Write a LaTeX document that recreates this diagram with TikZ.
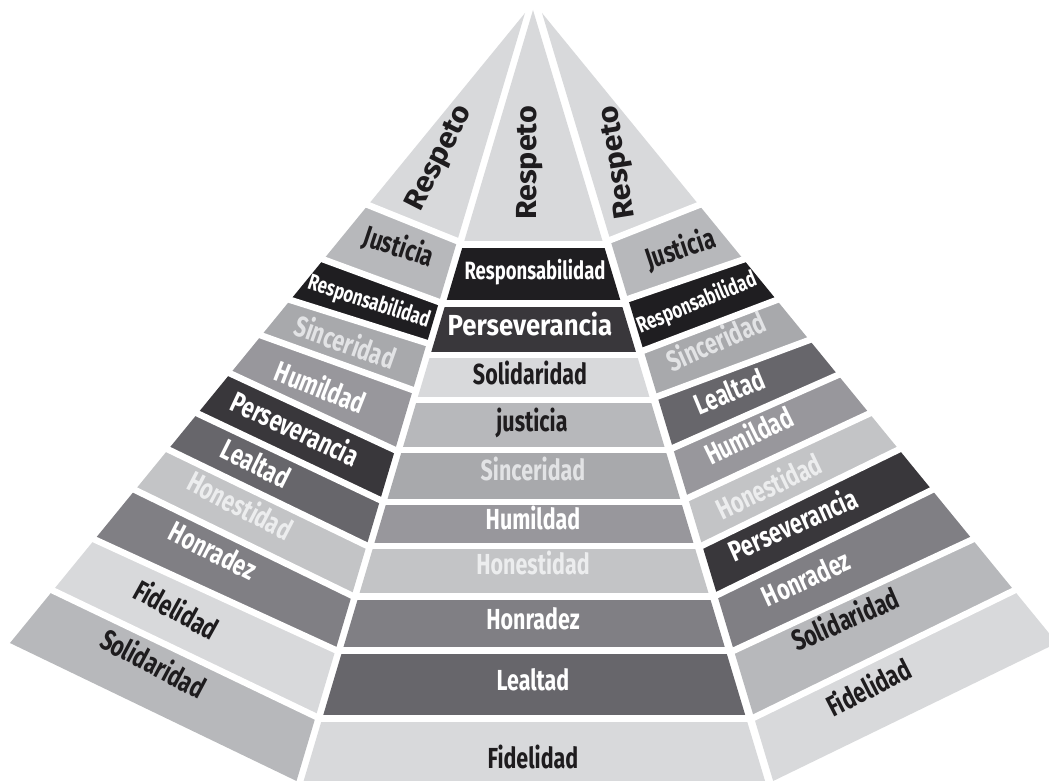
\documentclass[tikz,border=0pt]{standalone}
\usepackage{fontspec}
\usepackage{graphicx}
\newfontfamily\lab{Fira Sans}[FakeStretch=0.74]
\newfontfamily\labw{Fira Sans}[FakeStretch=1.05]
\definecolor{ca}{HTML}{D8D9DB}
\definecolor{cb}{HTML}{B7B8BB}
\definecolor{cc}{HTML}{A8A9AC}
\definecolor{cd}{HTML}{98979C}
\definecolor{ce}{HTML}{C3C4C6}
\definecolor{cf}{HTML}{807F84}
\definecolor{cg}{HTML}{67666B}
\definecolor{ch}{HTML}{39373B}
\definecolor{ci}{HTML}{1F1E21}
\definecolor{tk}{HTML}{1E1C1E}
\definecolor{tl}{HTML}{E2E3E5}
\definecolor{tm}{HTML}{ECEDEE}
% edge points (pixel coords, y downward)
\def\LO#1{({525-0.8175*(#1-13)},#1)}
\def\LI#1{({525-0.2975*(#1-13)},#1)}
\def\CL#1{({533-0.2975*(#1-10)},#1)}
\def\CR#1{({533+0.301*(#1-10)},#1)}
\def\RI#1{({542+0.301*(#1-13)},#1)}
\def\RO#1{({542+0.8175*(#1-13)},#1)}
\newcommand\bandL[5]{\fill[#1] \LO{#2} -- \LI{#3} -- \LI{#5} -- \LO{#4} -- cycle;}
\newcommand\bandR[5]{\fill[#1] \RO{#2} -- \RI{#3} -- \RI{#5} -- \RO{#4} -- cycle;}
\newcommand\bandC[3]{\fill[#1] \CL{#2} -- \CR{#2} -- \CR{#3} -- \CL{#3} -- cycle;}
\newcommand\sepL[2]{\draw[sepline] \LO{#1} -- \LI{#2};}
\newcommand\sepR[2]{\draw[sepline] \RO{#1} -- \RI{#2};}
\newcommand\sepC[1]{\draw[sepline] \CL{#1} -- \CR{#1};}
\begin{document}
\begin{tikzpicture}[x=1pt,y=-1pt,
  sepline/.style={draw=white,line width=6.5pt,line cap=rect},
  lbl/.style={inner sep=0pt,text height=0.69em,text depth=0pt,font=\lab\bfseries\fontsize{29}{29}\selectfont},
  dk/.style={lbl,text=tk},
  wt/.style={lbl,text=white},
  lt/.style={lbl,text=tl},
  lm/.style={lbl,text=tm},
  sm/.style={font=\lab\bfseries\fontsize{22.5}{22.5}\selectfont},
  md/.style={font=\lab\bfseries\fontsize{25}{25}\selectfont},
  rsp/.style={font=\labw\bfseries\fontsize{29}{29}\selectfont}]
\useasboundingbox (0,0) rectangle (1049,781);
\clip (0,0) rectangle (1049,781);
% ---------- left face ----------
\fill[ca] (525,13) -- \LI{241} -- \LO{205} -- cycle;
\bandL{cb}{205}{241}{259.5}{302}
\bandL{ci}{259.5}{302}{300}{343}
\bandL{cc}{300}{343}{335.5}{390}
\bandL{cd}{335.5}{390}{373.5}{450}
\bandL{ch}{373.5}{450}{413.5}{500}
\bandL{cg}{413.5}{500}{449.5}{545.5}
\bandL{ce}{449.5}{545.5}{490}{595.5}
\bandL{cf}{490}{595.5}{539.5}{650}
\bandL{ca}{539.5}{650}{590.5}{716.5}
\bandL{cb}{590.5}{716.5}{643}{781}
\sepL{205}{241}\sepL{259.5}{302}\sepL{300}{343}\sepL{335.5}{390}\sepL{373.5}{450}
\sepL{413.5}{500}\sepL{449.5}{545.5}\sepL{490}{595.5}\sepL{539.5}{650}\sepL{590.5}{716.5}
% ---------- right face ----------
\fill[ca] (542,13) -- \RI{240} -- \RO{205} -- cycle;
\bandR{cb}{205}{240}{259.5}{299}
\bandR{ci}{259.5}{299}{300}{350.5}
\bandR{cc}{300}{350.5}{340}{396.5}
\bandR{cg}{340}{396.5}{375}{448}
\bandR{cd}{375}{448}{413.5}{498}
\bandR{ce}{413.5}{498}{449.5}{545.5}
\bandR{ch}{449.5}{545.5}{490}{595}
\bandR{cf}{490}{595}{539.5}{650.5}
\bandR{cb}{539.5}{650.5}{590.5}{717.5}
\bandR{ca}{590.5}{717.5}{643}{781}
\sepR{205}{240}\sepR{259.5}{299}\sepR{300}{350.5}\sepR{340}{396.5}\sepR{375}{448}
\sepR{413.5}{498}\sepR{449.5}{545.5}\sepR{490}{595}\sepR{539.5}{650.5}\sepR{590.5}{717.5}
% ---------- centre face ----------
\fill[ca] (533,10) -- \CR{244.5} -- \CL{244.5} -- cycle;
\bandC{ci}{244.5}{303.5}
\bandC{ch}{303.5}{355}
\bandC{ca}{355}{400}
\bandC{cb}{400}{450}
\bandC{cc}{450}{502}
\bandC{cd}{502}{546}
\bandC{ce}{546}{596.5}
\bandC{cf}{596.5}{650.5}
\bandC{cg}{650.5}{718.5}
\bandC{ca}{718.5}{781}
\sepC{244.5}\sepC{303.5}\sepC{355}\sepC{400}\sepC{450}\sepC{502}\sepC{546}\sepC{596.5}\sepC{650.5}\sepC{718.5}
% ---------- labels: left ----------
\node[dk,rsp,rotate=63] (tL1) at (443,160) {Respeto};
\node[dk,rotate=-18.4] (tL2) at (397,253) {Justicia};
\node[wt,sm,rotate=-18] (tL3) at (368,305) {Responsabilidad};
\node[lt,rotate=-19.5] (tL4) at (343,349) {Sinceridad};
\node[wt,rotate=-21.5] (tL5) at (318,394) {Humildad};
\node[wt,rotate=-25] (tL6) at (292,435) {Perseverancia};
\node[wt,rotate=-26.5] (tL7) at (253,470) {Lealtad};
\node[lm,rotate=-27.5] (tL8) at (237,512) {Honestidad};
\node[wt,rotate=-27] (tL9) at (210,557) {Honradez};
\node[dk,rotate=-29] (tL10) at (173,616) {Fidelidad};
\node[dk,rotate=-28] (tL11) at (150,670) {Solidaridad};
% ---------- labels: centre ----------
\node[dk,rsp,rotate=90] (tC1) at (533,163) {Respeto};
\node[wt,md] (tC2) at (535,276) {Responsabilidad};
\node[wt] (tC3) at (530,332) {\scalebox{1.2}[1]{Perseverancia}};
\node[dk] (tC4) at (530,381) {Solidaridad};
\node[dk] (tC5) at (532,428) {justicia};
\node[lt] (tC6) at (533,477) {Sinceridad};
\node[wt] (tC7) at (533,526) {Humildad};
\node[lm] (tC8) at (533,571) {Honestidad};
\node[wt] (tC9) at (533,626) {Honradez};
\node[wt] (tC10) at (533,687) {Lealtad};
\node[dk] (tC11) at (533,765) {Fidelidad};
% ---------- labels: right ----------
\node[dk,rsp,rotate=99] (tR1) at (622,162) {Respeto};
\node[dk,rotate=18.4] (tR2) at (682,255) {Justicia};
\node[wt,sm,rotate=22.4] (tR3) at (698,306) {Responsabilidad};
\node[lt,rotate=24] (tR4) at (719,348) {Sinceridad};
\node[wt,rotate=22.5] (tR5) at (732,398) {Lealtad};
\node[wt,rotate=26] (tR6) at (752,442) {Humildad};
\node[lm,rotate=25.5] (tR7) at (772,493) {Honestidad};
\node[wt,rotate=24] (tR8) at (796,531) {Perseverancia};
\node[wt,rotate=24.4] (tR9) at (809,585) {Honradez};
\node[dk,rotate=23.6] (tR10) at (848,626) {Solidaridad};
\node[dk,rotate=27] (tR11) at (872,694) {Fidelidad};
\end{tikzpicture}
\end{document}
